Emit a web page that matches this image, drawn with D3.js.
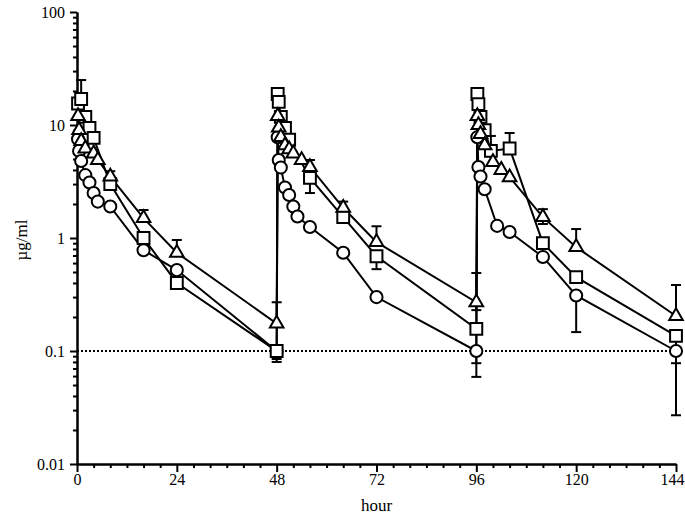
<!DOCTYPE html>
<html>
  <head>
    <meta charset="utf-8">
    <title>Concentration over time</title>
    <script src="https://d3js.org/d3.v7.min.js"></script>
    <style>
      body { margin: 0; background: #fff; }
      svg text { font-family: "Liberation Serif", "Times New Roman", serif; fill: #000; }
      .axis path, .axis line { stroke: #000; stroke-width: 2; }
      .axis text { font-size: 16px; }
      .label { font-size: 17px; }
      .series { fill: none; stroke: #000; stroke-width: 2; }
      .err { stroke: #000; stroke-width: 2; }
      .mark { fill: #fff; stroke: #000; stroke-width: 2; }
    </style>
  </head>
  <body>
    <svg id="chart" width="685" height="517"></svg>
    <script>
      // data (hours, µg/ml)
      const circleHours = [0.25, 0.5, 1, 2, 3, 4, 5, 8, 16, 24, 48,
        48.25, 48.5, 49, 50, 51, 52, 53, 56, 64, 72, 96,
        96.25, 96.5, 97, 98, 101, 104, 112, 120, 144];
      const circleConc = [7.5, 5.9, 4.8, 3.6, 3.1, 2.5, 2.1, 1.9, 0.78, 0.52, 0.1,
        7.8, 4.9, 4.2, 2.8, 2.4, 1.9, 1.55, 1.25, 0.74, 0.3, 0.1,
        7.8, 4.25, 3.5, 2.7, 1.28, 1.13, 0.68, 0.31, 0.1];
      const squareHours = [0.25, 1, 2, 3, 4, 8, 16, 24, 48,
        48.25, 48.5, 49, 50, 51, 56, 64, 72, 96,
        96.25, 96.5, 97, 98, 99.5, 104, 112, 120, 144];
      const squareConc = [15.5, 17, 11.8, 9.4, 7.7, 3.0, 1.0, 0.4, 0.1,
        18.8, 16, 11.8, 9.4, 7.4, 3.4, 1.53, 0.69, 0.157,
        18.8, 15.3, 11.8, 9.0, 5.9, 6.2, 0.9, 0.45, 0.136];
      const triangleHours = [0.25, 0.5, 1, 2, 4, 5, 8, 16, 24, 48,
        48.25, 48.5, 49, 50, 51, 52, 54, 56, 64, 72, 96,
        96.25, 96.5, 97, 98, 100, 102, 104, 112, 120, 144];
      const triangleConc = [12, 9, 7.2, 6.2, 5.6, 4.9, 3.5, 1.5, 0.74, 0.175,
        12, 9.5, 7.8, 6.6, 6.1, 5.6, 4.9, 4.25, 1.85, 0.92, 0.27,
        12, 10, 8.3, 6.6, 4.7, 4.0, 3.45, 1.53, 0.83, 0.204];
      // error bars: [hour, low, high]
      const circleErr = [[48, 0.085, null], [96, 0.059, null], [120, 0.147, null], [144, 0.027, null]];
      const squareErr = [[1, null, 25], [48, 0.08, null], [56, 2.5, null], [72, 0.53, null],
        [96, 0.078, null], [99.5, null, 8.0], [104, null, 8.5], [144, 0.078, null]];
      const triangleErr = [[8, null, 3.9], [16, null, 1.77], [24, null, 0.96], [48, null, 0.27],
        [56, null, 4.9], [64, null, 2.1], [72, null, 1.27], [96, 0.23, 0.49],
        [112, 1.33, 1.8], [120, null, 1.2], [144, null, 0.384]];
      const xTicks = [0, 24, 48, 72, 96, 120, 144];
      const yTicks = [0.01, 0.1, 1, 10, 100];
      const limitOfQuantitation = 0.1;

      const svg = d3.select("#chart");
      const x = d3.scaleLinear().domain([0, 144]).range([77, 676]);
      const y = d3.scaleLog().domain([0.01, 100]).range([464, 12]);

      // axes
      const xMinor = d3.range(0, 145, 4).filter(function(d) { return d % 24 !== 0; });
      svg.append("g").attr("class", "axis")
        .attr("transform", "translate(0,464)")
        .call(d3.axisBottom(x).tickValues(xMinor).tickSize(4).tickFormat("").tickSizeOuter(0));
      const xAxisGroup = svg.append("g").attr("class", "axis")
        .attr("transform", "translate(0,464)")
        .call(d3.axisBottom(x).tickValues(xTicks).tickSize(8).tickPadding(2).tickSizeOuter(0));
      // keep the last label inside the frame
      xAxisGroup.selectAll(".tick text").filter(function(d) { return d === 144; })
        .attr("dx", -4);
      const yMinor = [];
      [0.01, 0.1, 1, 10].forEach(function(b) {
        for (let k = 2; k <= 9; k++) yMinor.push(b * k);
      });
      svg.append("g").attr("class", "axis")
        .attr("transform", "translate(77,0)")
        .call(d3.axisLeft(y).tickValues(yMinor).tickSize(4).tickFormat("").tickSizeOuter(0));
      svg.append("g").attr("class", "axis")
        .attr("transform", "translate(77,0)")
        .call(d3.axisLeft(y).tickValues(yTicks).tickSize(7).tickPadding(5).tickSizeOuter(0)
          .tickFormat(function(d) { return String(d); }));

      svg.append("text").attr("class", "label")
        .attr("x", x(72)).attr("y", 511)
        .attr("text-anchor", "middle").text("hour");
      svg.append("text").attr("class", "label")
        .attr("transform", "translate(27,240) rotate(-90)")
        .attr("text-anchor", "middle").text("µg/ml");

      // dotted limit line
      svg.append("line")
        .attr("x1", x(0)).attr("x2", x(144))
        .attr("y1", y(limitOfQuantitation)).attr("y2", y(limitOfQuantitation))
        .attr("stroke", "#000").attr("stroke-width", 2).attr("stroke-dasharray", "2,2");

      const line = d3.line()
        .x(function(d) { return x(d[0]); })
        .y(function(d) { return y(d[1]); });

      const series = [
        { hours: circleHours, conc: circleConc, err: circleErr, shape: "circle" },
        { hours: squareHours, conc: squareConc, err: squareErr, shape: "square" },
        { hours: triangleHours, conc: triangleConc, err: triangleErr, shape: "triangle" }
      ];
      series.forEach(function(s) {
        s.points = s.hours.map(function(h, i) { return [h, s.conc[i]]; });
      });

      // lines
      series.forEach(function(s) {
        svg.append("path").attr("class", "series").attr("d", line(s.points));
      });

      // error bars
      series.forEach(function(s) {
        s.err.forEach(function(e) {
          const i = s.hours.indexOf(e[0]);
          const v = s.conc[i];
          const cx = x(e[0]);
          [e[1], e[2]].forEach(function(end) {
            if (end == null) return;
            svg.append("line").attr("class", "err")
              .attr("x1", cx).attr("x2", cx).attr("y1", y(v)).attr("y2", y(end));
            svg.append("line").attr("class", "err")
              .attr("x1", cx - 5).attr("x2", cx + 5).attr("y1", y(end)).attr("y2", y(end));
          });
        });
      });

      // markers
      const symbols = {
        circle: d3.symbol().type(d3.symbolCircle).size(115),
        square: d3.symbol().type(d3.symbolSquare).size(140),
        triangle: d3.symbol().type(d3.symbolTriangle).size(80)
      };
      series.forEach(function(s) {
        svg.append("g").selectAll("path")
          .data(s.points)
          .join("path")
            .attr("class", "mark")
            .attr("transform", function(d) { return "translate(" + x(d[0]) + "," + y(d[1]) + ")"; })
            .attr("d", symbols[s.shape]);
      });
    </script>
  </body>
</html>
